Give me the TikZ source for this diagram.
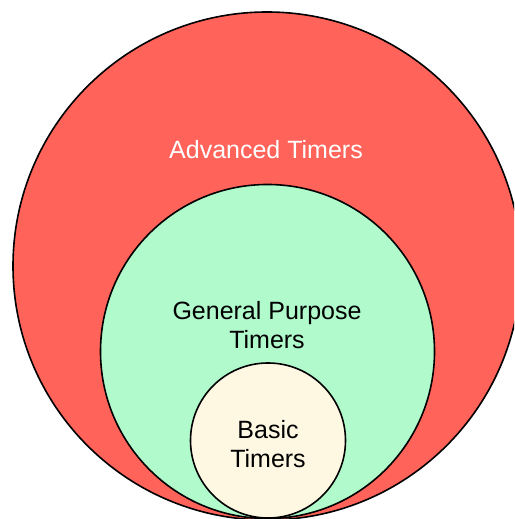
\documentclass[tikz,border=0pt]{standalone}
\usepackage{fontspec}
\setmainfont{Liberation Sans}
\definecolor{advred}{RGB}{255,99,89}
\definecolor{gpgreen}{RGB}{176,250,204}
\definecolor{basiccream}{RGB}{254,248,227}
\begin{document}
\begin{tikzpicture}[x=1pt,y=1pt,
  ring/.style={draw=black,line width=1.6pt},
  lbl/.style={font=\fontsize{25}{29.5}\selectfont,align=center}]
\useasboundingbox (0,0) rectangle (514,519);
\clip (0,0) rectangle (514,519);
\fill[white] (0,0) rectangle (514,519);
\draw[ring,fill=advred] (267,253) circle[radius=254];
\draw[ring,fill=gpgreen] (267.5,167.5) circle[radius=167];
\draw[ring,fill=basiccream] (268,78.5) circle[radius=77.5];
\node[lbl,text=white] (adv) at (266,369) {Advanced Timers};
\node[lbl] (gp) at (267,194) {General Purpose\\Timers};
\node[lbl] (basic) at (268,75) {Basic\\Timers};
\end{tikzpicture}
\end{document}
